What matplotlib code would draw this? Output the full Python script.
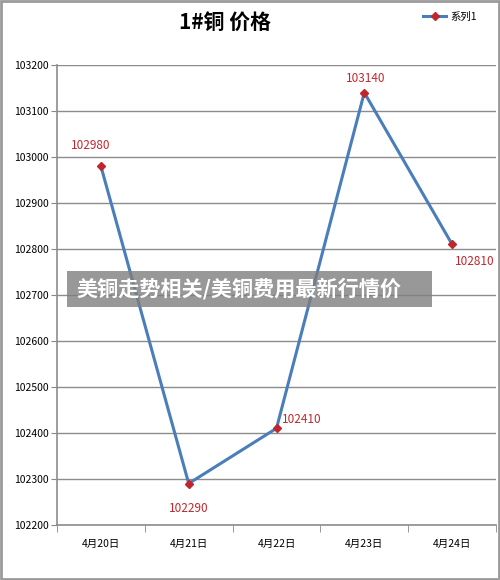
import matplotlib
matplotlib.use("Agg")
from matplotlib import pyplot as plt
from matplotlib.patches import Rectangle
import numpy as np

plt.rcParams['font.family'] = ['Noto Sans CJK SC', 'DejaVu Sans']

# 数据
dates = ['4月20日', '4月21日', '4月22日', '4月23日', '4月24日']
prices = [102980, 102290, 102410, 103140, 102810]
y_ticks = [102200, 102300, 102400, 102500, 102600, 102700, 102800, 102900, 103000, 103100, 103200]
# 标签偏移 (点)
offsets = [(-7, 15), (0, -18), (18, 6), (1, 10), (16, -12)]

fig = plt.figure(figsize=(5, 5.8), dpi=100)
ax = fig.add_axes([0.114, 0.095, 0.878, 0.793])

x = np.arange(len(dates))
ax.plot(x, prices, color='#4A7EBB', lw=2.2, marker='D', ms=4.5,
        markerfacecolor='#C0272D', markeredgecolor='#C0272D', label='系列1', zorder=3)

for xi, p, off in zip(x, prices, offsets):
    ax.annotate(str(p), (xi, p), xytext=off, textcoords='offset points',
                ha='center', va='center', color='#C0272D', fontsize=8.5)

ax.set_xlim(-0.5, len(dates) - 0.5)
ax.set_ylim(y_ticks[0], y_ticks[-1])
ax.set_yticks(y_ticks)
ax.set_yticklabels([str(t) for t in y_ticks], fontsize=7.5)
ax.set_xticks(x)
ax.set_xticklabels(dates, fontsize=7.5)
ax.tick_params(axis='x', length=0, pad=10)
ax.tick_params(axis='y', length=4, color='#888888', pad=2)
ax.set_xticks(np.arange(-0.5, len(dates)), minor=True)
ax.tick_params(axis='x', which='minor', length=5, color='#888888')
ax.grid(axis='y', color='#8C8C8C', lw=1)
ax.set_axisbelow(True)
for s in ['top', 'right']:
    ax.spines[s].set_visible(False)
for s in ['left', 'bottom']:
    ax.spines[s].set_color('#8C8C8C')
    ax.spines[s].set_linewidth(1.2)

fig.text(0.45, 0.962, '1#铜 价格', ha='center', va='center', fontsize=15, fontweight='bold')
leg = fig.legend(loc='center', bbox_to_anchor=(0.9, 0.971), frameon=False, fontsize=7.5,
                 handlelength=2.2, handletextpad=0.4)

# 水印条
fig.patches.append(Rectangle((0.134, 0.471), 0.73, 0.062, transform=fig.transFigure,
                             facecolor='#7F7F7F', alpha=0.8, edgecolor='none', zorder=5))
fig.text(0.152, 0.502, '美铜走势相关/美铜费用最新行情价', ha='left', va='center',
         fontsize=15.2, fontweight='heavy', color='white', zorder=6)

# 外框
fig.patches.append(Rectangle((0.002, 0.002), 0.996, 0.996, transform=fig.transFigure,
                             facecolor='none', edgecolor='#9A9A9A', lw=2))

fig.savefig('out.png', dpi=100)
